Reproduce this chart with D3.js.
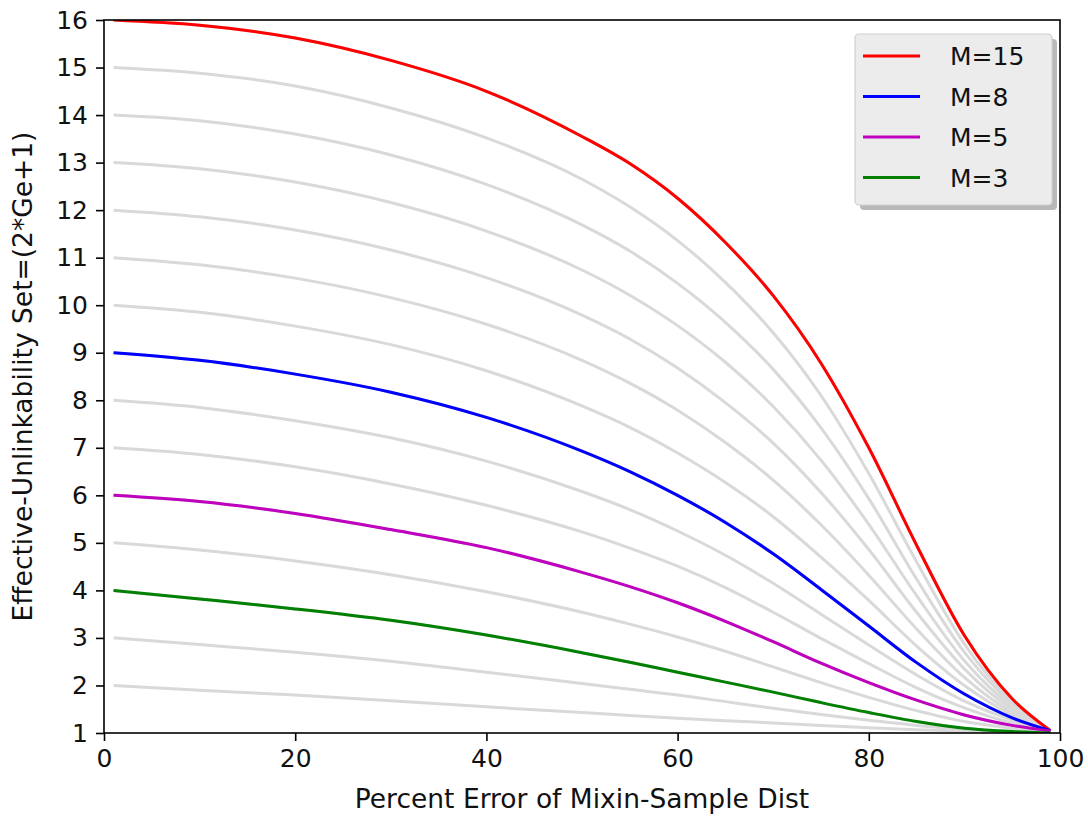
<!DOCTYPE html>
<html><head><meta charset="utf-8">
<script src="https://cdn.jsdelivr.net/npm/d3@7"></script>
<style>body{margin:0;background:#fff}text{font-family:"DejaVu Sans",sans-serif}</style>
</head><body>
<svg id="chart" width="1088" height="816"></svg>
<script>
// ---- data ----
const xValues = [1, 10, 20, 30, 40, 50, 55, 60, 65, 70, 75, 80, 85, 90, 95, 99];
const m1  = [2, 1.9, 1.8, 1.68, 1.55, 1.43, 1.37, 1.31, 1.26, 1.21, 1.16, 1.11, 1.07, 1.04, 1.01, 1.0];
const m2  = [3, 2.86, 2.7, 2.51, 2.28, 2.04, 1.92, 1.8, 1.66, 1.52, 1.39, 1.27, 1.16, 1.08, 1.02, 1.0];
const m3  = [4, 3.82, 3.61, 3.37, 3.06, 2.69, 2.49, 2.28, 2.07, 1.86, 1.64, 1.43, 1.24, 1.1, 1.03, 1.0];
const m4  = [5, 4.85, 4.62, 4.33, 3.97, 3.54, 3.29, 3.02, 2.72, 2.39, 2.06, 1.75, 1.47, 1.24, 1.1, 1.02];
const m5  = [6, 5.87, 5.62, 5.28, 4.9, 4.38, 4.08, 3.74, 3.35, 2.92, 2.47, 2.06, 1.69, 1.38, 1.16, 1.04];
const m6  = [7, 6.86, 6.6, 6.24, 5.79, 5.23, 4.89, 4.51, 4.06, 3.54, 2.99, 2.46, 1.95, 1.53, 1.21, 1.04];
const m7  = [8, 7.85, 7.57, 7.21, 6.72, 6.08, 5.7, 5.25, 4.74, 4.15, 3.5, 2.85, 2.22, 1.67, 1.27, 1.05];
const m8  = [9, 8.84, 8.55, 8.17, 7.64, 6.93, 6.5, 6.0, 5.43, 4.77, 4.02, 3.25, 2.48, 1.82, 1.32, 1.05];
const m9  = [10, 9.85, 9.56, 9.17, 8.62, 7.88, 7.43, 6.89, 6.27, 5.55, 4.7, 3.79, 2.83, 2.0, 1.38, 1.05];
const m10 = [11, 10.85, 10.57, 10.16, 9.6, 8.84, 8.36, 7.79, 7.11, 6.32, 5.38, 4.32, 3.19, 2.17, 1.43, 1.05];
const m11 = [12, 11.86, 11.58, 11.16, 10.58, 9.79, 9.29, 8.68, 7.95, 7.1, 6.06, 4.86, 3.54, 2.35, 1.49, 1.05];
const m12 = [13, 12.87, 12.59, 12.16, 11.56, 10.74, 10.21, 9.57, 8.8, 7.87, 6.74, 5.39, 3.89, 2.52, 1.55, 1.05];
const m13 = [14, 13.88, 13.6, 13.16, 12.54, 11.69, 11.14, 10.46, 9.64, 8.65, 7.42, 5.93, 4.24, 2.7, 1.61, 1.05];
const m14 = [15, 14.88, 14.61, 14.15, 13.52, 12.65, 12.07, 11.36, 10.48, 9.42, 8.1, 6.46, 4.6, 2.87, 1.66, 1.05];
const m15 = [16, 15.89, 15.62, 15.15, 14.5, 13.55, 12.98, 12.25, 11.32, 10.2, 8.78, 7.0, 4.95, 3.05, 1.72, 1.05];
const allSeries = [m1, m2, m3, m4, m5, m6, m7, m8, m9, m10, m11, m12, m13, m14, m15];
const highlightM = [15, 8, 5, 3];
const legendLabels = ["M=15", "M=8", "M=5", "M=3"];
const xTicks = [0, 20, 40, 60, 80, 100];
const yTicks = [1, 2, 3, 4, 5, 6, 7, 8, 9, 10, 11, 12, 13, 14, 15, 16];
const xLabel = "Percent Error of Mixin-Sample Dist";
const yLabel = "Effective-Unlinkability Set=(2*Ge+1)";

// ---- styles ----
const highlightColors = ["#ff0000", "#0000ff", "#bf00bf", "#008000"];
const grayColor = "#d9d9d9";
const fontSize = 25;

const svg = d3.select("#chart");
const m = {left: 104, right: 1060, top: 20, bottom: 733};
const x = d3.scaleLinear().domain([0, 100]).range([m.left, m.right]);
const y = d3.scaleLinear().domain([1, 16]).range([m.bottom, m.top]);

const line = d3.line().x(d => x(d[0])).y(d => y(d[1])).curve(d3.curveMonotoneX);
const pts = s => xValues.map((xv, i) => [xv, s[i]]);

svg.append("clipPath").attr("id", "clip").append("rect")
  .attr("x", m.left).attr("y", m.top).attr("width", m.right - m.left).attr("height", m.bottom - m.top);

const plot = svg.append("g").attr("clip-path", "url(#clip)");
allSeries.forEach(s => {
  plot.append("path").attr("d", line(pts(s))).attr("fill", "none")
    .attr("stroke", grayColor).attr("stroke-width", 3);
});
highlightM.forEach((M, i) => {
  plot.append("path").attr("d", line(pts(allSeries[M - 1]))).attr("fill", "none")
    .attr("stroke", highlightColors[i]).attr("stroke-width", 3);
});

// axes
const xAxis = d3.axisBottom(x).tickValues(xTicks).tickSize(8).tickPadding(8);
const yAxis = d3.axisLeft(y).tickValues(yTicks).tickSize(8).tickPadding(8);
const gx = svg.append("g").attr("transform", `translate(0,${m.bottom})`).call(xAxis);
const gy = svg.append("g").attr("transform", `translate(${m.left},0)`).call(yAxis);
[gx, gy].forEach(g => {
  g.select(".domain").remove();
  g.selectAll("line").attr("stroke", "#000").attr("stroke-width", 1.6);
  g.selectAll("text").attr("font-size", fontSize).attr("font-family", "DejaVu Sans").attr("fill", "#111");
});

svg.append("rect").attr("x", m.left).attr("y", m.top)
  .attr("width", m.right - m.left).attr("height", m.bottom - m.top)
  .attr("fill", "none").attr("stroke", "#000").attr("stroke-width", 1.6);

svg.append("text").attr("x", (m.left + m.right) / 2).attr("y", 808)
  .attr("text-anchor", "middle").attr("font-size", 26.5).attr("fill", "#111").text(xLabel);
svg.append("text").attr("transform", `translate(32,${(m.top + m.bottom) / 2}) rotate(-90)`)
  .attr("text-anchor", "middle").attr("font-size", 26.5).attr("fill", "#111").text(yLabel);

// legend
const lg = svg.append("g");
lg.append("rect").attr("x", 860).attr("y", 39).attr("width", 197).attr("height", 171)
  .attr("rx", 4).attr("fill", "#9a9a9a").attr("opacity", 0.7);
lg.append("rect").attr("x", 855).attr("y", 34).attr("width", 197).attr("height", 171)
  .attr("rx", 4).attr("fill", "#ececec").attr("stroke", "#cfcfcf").attr("stroke-width", 1.2);
legendLabels.forEach((lab, i) => {
  const yy = 56 + i * 40.5;
  lg.append("line").attr("x1", 863).attr("x2", 920).attr("y1", yy).attr("y2", yy)
    .attr("stroke", highlightColors[i]).attr("stroke-width", 3);
  lg.append("text").attr("x", 950).attr("y", yy).attr("dy", "0.36em")
    .attr("font-size", fontSize).attr("fill", "#111").text(lab);
});
</script>
</body></html>
